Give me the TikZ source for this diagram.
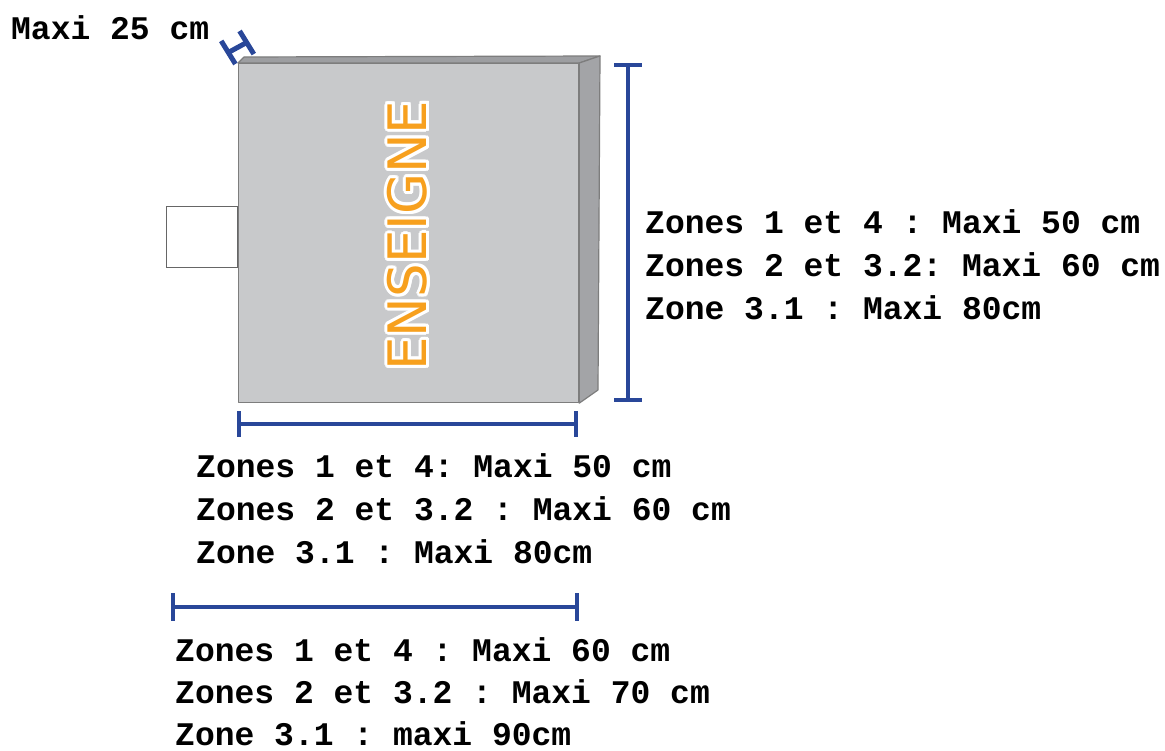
\documentclass[tikz,border=0pt]{standalone}
\usepackage{fontspec}
\setmonofont{Liberation Mono}
\newfontfamily\signfont{DejaVu Sans}
\usetikzlibrary{positioning}
\definecolor{dimblue}{RGB}{41,71,153}
\definecolor{frontgray}{RGB}{200,201,203}
\definecolor{topgray}{RGB}{157,158,161}
\definecolor{sidegray}{RGB}{163,164,167}
\definecolor{edgegray}{RGB}{125,125,125}
\definecolor{signorange}{RGB}{247,160,30}
\tikzset{dim/.style={draw=dimblue, line width=4.5pt}}
\tikzset{dimtxt/.style={anchor=base west, inner sep=0pt, font=\ttfamily\bfseries\fontsize{33}{43}\selectfont}}
\tikzset{face/.style={draw=edgegray, line width=1.2pt, line join=round}}
\tikzset{signtxt/.style={rotate=90, inner sep=0pt, font=\signfont\fontsize{53}{53}\selectfont}}

\begin{document}
\begin{tikzpicture}[x=1pt,y=-1pt]
\useasboundingbox (0,0) rectangle (1165,751);
% fixation
\node[draw=black!60, line width=0.8pt, fill=white, minimum width=71pt, minimum height=61pt, anchor=north east, inner sep=0pt] (bracket) at (238,206) {};
% caisson
\node[face, fill=frontgray, minimum width=340pt, minimum height=339pt, anchor=north west, inner sep=0pt] (front) at (238,63) {};
\filldraw[face, fill=topgray] (front.north west) -- (244,57) -- (600,56) -- (front.north east) -- cycle;
\filldraw[face, fill=sidegray] (front.north east) -- (600,56) -- (598,390) -- (front.south east) -- cycle;
\coordinate (mid) at ([xshift=-1pt,yshift=-2.5pt]front.center);
% halo blanc
\foreach \a in {0,22.5,...,337.5}
  \node[signtxt, text=white] (halo\a) at ([shift={(\a:3pt)}]mid) {ENSEIGNE};
\node[signtxt, text=signorange] (sign) at (mid) {ENSEIGNE};
% profondeur
\coordinate (pa) at (228.3,52.5);
\coordinate (pb) at (246.7,42.5);
\draw[dim, line width=5pt] (pa) -- (pb);
\draw[dim, line width=5pt] (221.2,40.9) -- (235.4,64);
\draw[dim, line width=5pt] (239.6,31) -- (253.8,54.1);
\node[dimtxt] (depth) at (11,40) {Maxi 25 cm};
% hauteur
\coordinate (vt) at (628,65);
\coordinate (vb) at (628,400);
\draw[dim] (vt) -- (vb);
\draw[dim] ([xshift=-14pt]vt) -- ([xshift=14pt]vt);
\draw[dim] ([xshift=-14pt]vb) -- ([xshift=14pt]vb);
\foreach \t [count=\i] in {Zones 1 et 4 : Maxi 50 cm, Zones 2 et 3.2: Maxi 60 cm, Zone 3.1 : Maxi 80cm}
  \node[dimtxt] (r\i) at (645,{190.3+43*\i}) {\t};
% largeur
\coordinate (wl) at (239,424);
\coordinate (wr) at (576,424);
\draw[dim] (wl) -- (wr);
\draw[dim] ([yshift=13pt]wl) -- ([yshift=-13pt]wl);
\draw[dim] ([yshift=13pt]wr) -- ([yshift=-13pt]wr);
\foreach \t [count=\i] in {Zones 1 et 4: Maxi 50 cm, Zones 2 et 3.2 : Maxi 60 cm, Zone 3.1 : Maxi 80cm}
  \node[dimtxt] (w\i) at (196,{434.3+43*\i}) {\t};
% largeur avec fixation
\coordinate (tl) at (173,607);
\coordinate (tr) at (577,607);
\draw[dim] (tl) -- (tr);
\draw[dim] ([yshift=14pt]tl) -- ([yshift=-14pt]tl);
\draw[dim] ([yshift=14pt]tr) -- ([yshift=-14pt]tr);
\foreach \t [count=\i] in {Zones 1 et 4 : Maxi 60 cm, Zones 2 et 3.2 : Maxi 70 cm, Zone 3.1 : maxi 90cm}
  \node[dimtxt] (b\i) at (175,{620+41.8*\i}) {\t};
\end{tikzpicture}
\end{document}
